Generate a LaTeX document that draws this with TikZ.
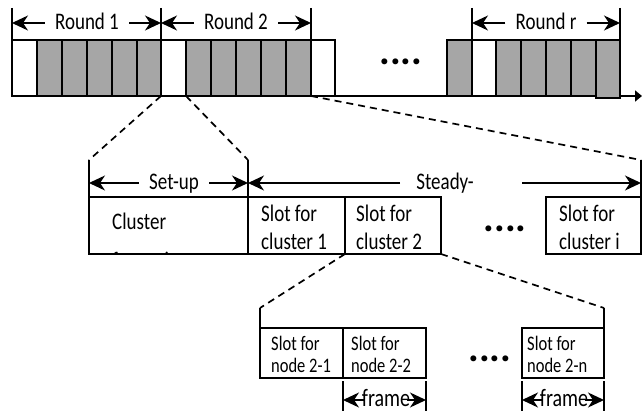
\documentclass[tikz,border=0pt]{standalone}
\usepackage{fontspec}
\setmainfont{Carlito}
\usetikzlibrary{arrows.meta}
\definecolor{barGrey}{HTML}{A6A6A6}
\newcommand\tallt[1]{\scalebox{1}[1.25]{#1}}
\begin{document}
\begin{tikzpicture}[x=1pt,y=-1pt,
  cell/.style={draw, line width=1.8pt, inner sep=0pt, outer sep=0pt, anchor=north west, minimum height=56pt},
  boxnode/.style={draw, line width=1.7pt, inner sep=0pt, outer sep=0pt, anchor=north west},
  tickline/.style={line width=1.5pt},
  dimarrow/.style={line width=1.5pt, -{Stealth[length=16pt,width=15pt,inset=5pt]}},
  zoomline/.style={line width=1.7pt, dash pattern=on 7pt off 5pt},
  lbl/.style={font=\fontsize{19}{23}\selectfont, inner sep=0pt},
  slbl/.style={font=\fontsize{16.5}{20}\selectfont, inner sep=0pt, anchor=base west},
  mlbl/.style={lbl, anchor=base west},
  dots/.style={font=\fontsize{40}{40}\selectfont\bfseries, inner sep=0pt},
  framelbl/.style={font=\fontsize{20}{20}\selectfont, inner sep=0pt, anchor=base, fill=white}
]
\useasboundingbox (0,0) rectangle (642,411);

% ---------- timeline ----------
\coordinate (tstart) at (12,96);
\coordinate (tend) at (642,96);
\draw[line width=1.8pt, -{Triangle[length=7pt,width=11pt]}] (tstart) -- (tend);

\foreach \a/\b/\c [count=\n] in {12/37/white,37/62/barGrey,62/87/barGrey,87/112/barGrey,112/137/barGrey,137/161/barGrey,
  161/186/white,186/211/barGrey,211/236/barGrey,236/261/barGrey,261/286/barGrey,286/311/barGrey,311/335/white,
  447/472/barGrey,472/496/white,496/521/barGrey,521/546/barGrey,546/571/barGrey,571/596/barGrey}
  {\node[cell, fill=\c, minimum width={\b-\a}] (t\n) at (\a,40) {};}
\node[cell, fill=barGrey, minimum width=24, minimum height=58] (t20) at (596,40) {};

\node[dots] (topdots) at (401,62) {....};

% ---------- round dimension marks ----------
\coordinate (k1) at (12,8);
\coordinate (k2) at (161,8);
\coordinate (k3) at (311,8);
\coordinate (k4) at (472,8);
\coordinate (k5) at (620,8);
\draw[tickline] (k1) -- (t1.north west);
\draw[tickline] (k2) -- (t7.north west);
\draw[tickline] (k3) -- (t13.north west);
\draw[tickline] (k4) -- (t15.north west);
\draw[tickline] (k5) -- (t20.north east);

\coordinate (r1a) at (12,23);  \coordinate (r1b) at (161,23);
\coordinate (r2a) at (161,23); \coordinate (r2b) at (311,23);
\coordinate (r3a) at (472,23); \coordinate (r3b) at (620,23);
\node[lbl, inner xsep=10pt, anchor=base] (R1) at (87,30) {\tallt{Round 1}};
\node[lbl, inner xsep=10pt, anchor=base] (R2) at (236,30) {\tallt{Round 2}};
\node[lbl, inner xsep=10pt, anchor=base] (R3) at (546,30) {\tallt{Round r}};
\draw[dimarrow] (R1.west |- r1a) -- (r1a);
\draw[dimarrow] (R1.east |- r1b) -- (r1b);
\draw[dimarrow] (R2.west |- r2a) -- (r2a);
\draw[dimarrow] (R2.east |- r2b) -- (r2b);
\draw[dimarrow] (R3.west |- r3a) -- (r3a);
\draw[dimarrow] (R3.east |- r3b) -- (r3b);

% ---------- middle level ----------
\node[boxnode, minimum width=159, minimum height=57] (clf) at (89,197) {};
\node[boxnode, minimum width=97, minimum height=57] (cl1) at (248,197) {};
\node[boxnode, minimum width=96, minimum height=57] (cl2) at (345,197) {};
\node[boxnode, minimum width=95, minimum height=57] (cli) at (546,197) {};

\node[mlbl] (clfa) at (112,230) {\tallt{Cluster}};
\begin{scope}
  \clip (89,197) rectangle (248,252.5);
  \node[mlbl] (clfb) at (112,269) {\tallt{formation}};
\end{scope}
\node[mlbl] (cl1a) at (261,222) {\tallt{Slot for}};
\node[mlbl] (cl1b) at (261,250) {\tallt{cluster 1}};
\node[mlbl] (cl2a) at (356,222) {\tallt{Slot for}};
\node[mlbl] (cl2b) at (356,250) {\tallt{cluster 2}};
\node[mlbl] (clia) at (559,222) {\tallt{Slot for}};
\node[mlbl] (clib) at (559,250) {\tallt{cluster i}};
\node[dots] (middots) at (505,229) {....};

\coordinate (m1) at (89,160);
\coordinate (m2) at (248,160);
\coordinate (m3) at (641,160);
\draw[tickline] (m1) -- (clf.north west);
\draw[tickline] (m2) -- (cl1.north west);
\draw[tickline] (m3) -- (cli.north east);

\draw[zoomline] (t6.south east) -- (m1);
\draw[zoomline] (t7.south east) -- (m2);
\draw[zoomline] (t12.south east) -- (m3);

\coordinate (s1) at (89,183);
\coordinate (s2) at (248,183);
\coordinate (s3) at (641,183);
\node[lbl, inner xsep=10pt, anchor=base] (SU) at (174,190) {\tallt{Set-up}};
\draw[dimarrow] (SU.west |- s1) -- (s1);
\draw[dimarrow] (SU.east |- s2) -- (s2);
\node[lbl, anchor=base] (ST) at (445,190) {\tallt{Steady-}};
\coordinate (stl) at (400,183);
\coordinate (str) at (522,183);
\draw[dimarrow] (stl) -- (s2);
\draw[dimarrow] (str) -- (s3);

% ---------- bottom level ----------
\node[boxnode, minimum width=83, minimum height=50] (n21) at (260,328) {};
\node[boxnode, minimum width=83, minimum height=50] (n22) at (343,328) {};
\node[boxnode, minimum width=82, minimum height=50] (n2n) at (522,328) {};
\node[slbl] (n21a) at (271,350) {\tallt{Slot for}};
\node[slbl] (n21b) at (271,372) {\tallt{node 2-1}};
\node[slbl] (n22a) at (351,350) {\tallt{Slot for}};
\node[slbl] (n22b) at (351,372) {\tallt{node 2-2}};
\node[slbl] (n2na) at (527,350) {\tallt{Slot for}};
\node[slbl] (n2nb) at (527,372) {\tallt{node 2-n}};
\node[dots] (botdots) at (490,359) {....};

\coordinate (b1) at (260,308);
\coordinate (b2) at (604,308);
\draw[tickline] (b1) -- (n21.north west);
\draw[tickline] (b2) -- (n2n.north east);
\draw[zoomline] (cl2.south west) -- (b1);
\draw[zoomline] (cl2.south east) -- (b2);

\coordinate (f1t) at (343,381); \coordinate (f1b) at (343,411);
\coordinate (f2t) at (426,381); \coordinate (f2b) at (426,411);
\coordinate (f3t) at (522,381); \coordinate (f3b) at (522,411);
\coordinate (f4t) at (604,381); \coordinate (f4b) at (604,411);
\draw[tickline] (f1t) -- (f1b);
\draw[tickline] (f2t) -- (f2b);
\draw[tickline] (f3t) -- (f3b);
\draw[tickline] (f4t) -- (f4b);
\coordinate (fa1) at (343,400); \coordinate (fa2) at (426,400);
\coordinate (fa3) at (522,400); \coordinate (fa4) at (604,400);
\node[framelbl] (fr1) at (386,406) {\tallt{frame}};
\node[framelbl] (fr2) at (564,406) {\tallt{frame}};
\coordinate (fm1a) at ([xshift=3pt]fr1.west |- fa1);
\coordinate (fm1b) at ([xshift=-3pt]fr1.east |- fa2);
\coordinate (fm2a) at ([xshift=3pt]fr2.west |- fa3);
\coordinate (fm2b) at ([xshift=-3pt]fr2.east |- fa4);
\draw[dimarrow] (fm1a) -- (fa1);
\draw[dimarrow] (fm1b) -- (fa2);
\draw[dimarrow] (fm2a) -- (fa3);
\draw[dimarrow] (fm2b) -- (fa4);
\end{tikzpicture}
\end{document}
